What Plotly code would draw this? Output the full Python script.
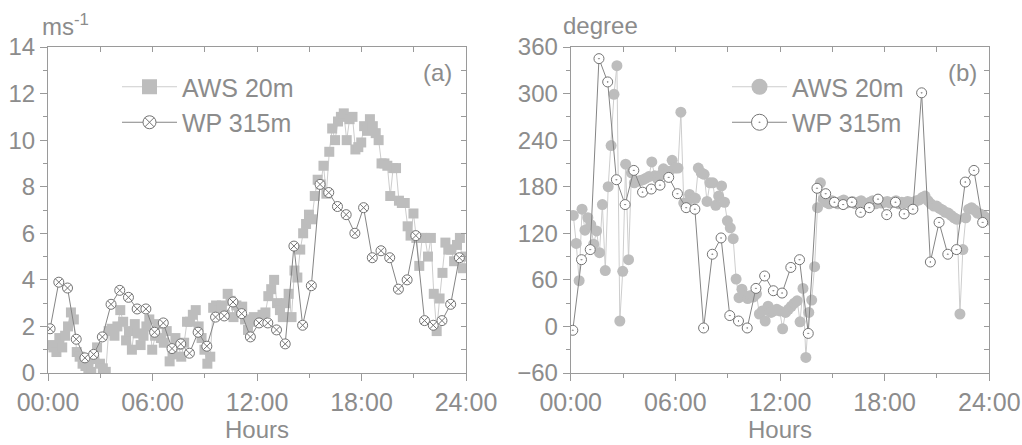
import numpy as np
import plotly.graph_objects as go

# ---------------- data ----------------
x_tick_vals = [0, 6, 12, 18, 24]
x_tick_text = ["00:00", "06:00", "12:00", "18:00", "24:00"]

# AWS 20 m, 10-min samples (hours)
aws_hours = np.arange(144) / 6.0 + 0.15
# WP 315 m, 30-min samples (hours)
wp_hours = np.arange(48) * 0.5 + 0.12

aws_speed = [
    1.2, 1.1, 0.9, 1.5, 1.1, 1.6,
    2.0, 2.6, 2.3, 0.9, 0.7, 0.4,
    0.3, 0.2, 0.05, 0.6, 1.1, 0.4,
    0.2, 0.05, 1.8, 1.9, 1.6, 2.0,
    2.7, 2.2, 1.4, 1.8, 1.0, 2.1,
    1.7, 1.2, 1.6, 2.0, 2.3, 1.0,
    1.6, 2.1, 1.5, 1.3, 1.8, 0.5,
    0.8, 1.5, 1.2, 0.7, 1.3, 2.2,
    2.2, 2.5, 2.7, 2.0, 1.5, 1.0,
    0.4, 0.7, 2.8, 2.9, 2.7, 2.9,
    2.5, 3.4, 3.1, 2.4, 2.9, 2.8,
    2.85, 2.3, 1.85, 2.2, 2.4, 2.3,
    2.3, 2.5, 2.6, 3.3, 3.6, 4.0,
    3.0, 2.7, 2.4, 3.0, 3.4, 2.4,
    4.4, 4.1, 5.3, 6.0, 6.4, 6.8,
    6.6, 7.6, 8.3, 8.1, 8.9, 7.7,
    9.5, 10.5, 10.0, 10.8, 11.0, 11.15,
    10.0, 10.9, 11.0, 9.6, 9.7, 9.9,
    10.6, 10.4, 10.9, 10.6, 10.3, 10.0,
    9.0, 9.0, 8.9, 7.6, 8.8, 8.8,
    7.4, 7.3, 7.3, 6.3, 5.9, 6.85,
    5.8, 4.6, 5.8, 5.8, 5.0, 5.8,
    3.4, 1.8, 3.2, 4.3, 5.6, 5.3,
    5.3, 4.8, 5.5, 5.8, 4.5, 5.0,
]

wp_speed = [
    1.9, 3.9, 3.65, 1.45, 0.65, 0.8, 1.55, 2.95, 3.55, 3.25, 2.75, 2.75,
    1.75, 2.15, 1.05, 1.25, 0.85, 1.75, 1.15, 2.4, 2.45, 3.05, 2.55, 1.55,
    2.15, 2.15, 1.85, 1.25, 5.45, 2.05, 3.75, 8.1, 7.75, 7.15, 6.8, 6.0,
    7.1, 4.95, 5.25, 4.95, 3.6, 4.0, 5.9, 2.25, 2.05, 2.25, 2.95, 4.95,
]

aws_dir = [
    143, 107, 59, 151, 124, 140,
    131, 106, 123, 95, 157, 72,
    180, 233, 299, 336, 7, 71,
    209, 86, 198, 185, 187, 188,
    189, 191, 193, 212, 194, 190,
    195, 203, 197, 200, 214, 204,
    204, 276, 159, 159, 170, 165,
    165, 204, 198, 196, 161, 185,
    185, 156, 168, 181, 160, 136,
    127, 113, 61, 37, 48, 40,
    36, 40, 38, 42, 16, 20,
    7, 26, 18, 20, 22, 20,
    -3, 18, 22, 26, 30, 33,
    6, 49, -40, 18, 34, 77,
    153, 185, 164, 160, 158, 162,
    160, 158, 161, 163, 159, 160,
    161, 158, 160, 162, 159, 157,
    160, 162, 158, 161, 159, 160,
    161, 159, 160, 162, 158, 160,
    159, 161, 160, 158, 162, 163,
    166, 168, 162, 158, 155, 155,
    152, 150, 147, 146, 143, 140,
    138, 16, 99, 140, 151, 153,
    150, 146, 145, 143, 140, 137,
]

wp_dir = [
    -5, 86, 99, 345, 315, 189, 157, 201, 173, 177, 182, 192,
    171, 153, 151, -2, 93, 114, 14, 7, -2, 49, 65, 46,
    43, 76, 86, -9, 178, 171, 160, 157, 160, 147, 153, 164,
    144, 160, 145, 151, 301, 83, 134, 93, 99, 186, 201, 134,
]

# ---------------- style ----------------
FONT = "Liberation Sans, Arial, sans-serif"
TXT = "#8c8c8c"
AX = "#9a9a9a"
AWS_FILL = "#bdbdbd"
AWS_LINE = "#cdcdcd"
WP_LINE = "#858585"
WP_EDGE = "#747474"

W, H = 1022, 445
L1, R1 = 48 / W, 466 / W
L2, R2 = 570.7 / W, 989.3 / W
B, T = (H - 373) / H, (H - 47) / H

fig = go.Figure()

aws_sq = dict(symbol="square", size=10, color=AWS_FILL, line=dict(width=0))
wp_cx = dict(symbol="circle-x", size=10, color="white", line=dict(color=WP_EDGE, width=1))
aws_ci = dict(symbol="circle", size=11, color=AWS_FILL, line=dict(width=0))
wp_cd = dict(symbol="circle-dot", size=10, color="white", line=dict(color=WP_EDGE, width=1))

# left panel
fig.add_trace(go.Scatter(x=aws_hours, y=aws_speed, mode="lines+markers",
                         line=dict(color=AWS_LINE, width=1), marker=aws_sq,
                         xaxis="x", yaxis="y", showlegend=False))
fig.add_trace(go.Scatter(x=wp_hours, y=wp_speed, mode="lines+markers",
                         line=dict(color=WP_LINE, width=1), marker=wp_cx,
                         xaxis="x", yaxis="y", showlegend=False))
# right panel
fig.add_trace(go.Scatter(x=aws_hours, y=aws_dir, mode="lines+markers",
                         line=dict(color=AWS_LINE, width=1), marker=aws_ci,
                         xaxis="x2", yaxis="y2", showlegend=False))
fig.add_trace(go.Scatter(x=wp_hours, y=wp_dir, mode="lines+markers",
                         line=dict(color=WP_LINE, width=1), marker=wp_cd,
                         xaxis="x2", yaxis="y2", showlegend=False))

# legend entries (bigger symbols, like the reference legend)
def leg(name, lc, mk, size, lg, xa, ya):
    m = dict(mk)
    m["size"] = size
    fig.add_trace(go.Scatter(x=[None], y=[None], mode="lines+markers", name=name,
                             line=dict(color=lc, width=1), marker=m,
                             xaxis=xa, yaxis=ya, legend=lg, showlegend=True))

leg("AWS 20m", AWS_LINE, aws_sq, 15, "legend", "x", "y")
leg("WP 315m", WP_LINE, wp_cx, 13, "legend", "x", "y")
leg("AWS 20m", AWS_LINE, aws_ci, 16, "legend2", "x2", "y2")
leg("WP 315m", WP_LINE, wp_cd, 16, "legend2", "x2", "y2")

# empty traces so the mirrored (inside-tick) frame axes are drawn
for xa, ya in (("x3", "y3"), ("x4", "y4")):
    fig.add_trace(go.Scatter(x=[], y=[], xaxis=xa, yaxis=ya, showlegend=False,
                             hoverinfo="skip"))

def xbottom(dom, anchor):
    return dict(domain=dom, anchor=anchor, range=[0, 24], tickmode="array",
                tickvals=x_tick_vals, ticktext=x_tick_text, ticks="outside",
                ticklen=7, tickwidth=1, tickcolor=AX, showline=True,
                linecolor=AX, linewidth=1, showgrid=False, zeroline=False,
                automargin=False,
                tickfont=dict(family=FONT, size=25, color=TXT),
                minor=dict(tickmode="array", tickvals=[3, 9, 15, 21],
                           ticks="outside", ticklen=4, tickcolor=AX),
                title=dict(text="Hours", font=dict(family=FONT, size=24, color=TXT),
                           standoff=6))

def yleft(dom, anchor, rng, dt, mdt):
    return dict(domain=dom, anchor=anchor, range=rng, tickmode="linear",
                tick0=0, dtick=dt, ticks="outside", ticklen=7, tickwidth=1,
                tickcolor=AX, showline=True, linecolor=AX, linewidth=1,
                showgrid=False, zeroline=False, automargin=False,
                tickfont=dict(family=FONT, size=24, color=TXT),
                minor=dict(tick0=0, dtick=mdt, ticks="outside", ticklen=4,
                           tickcolor=AX))

def xtop(over, dom, anchor):
    return dict(overlaying=over, side="top", domain=dom, anchor=anchor,
                range=[0, 24], tickmode="linear", tick0=0, dtick=3,
                ticks="inside", ticklen=5, tickcolor=AX, showticklabels=False,
                showline=True, linecolor=AX, linewidth=1, showgrid=False,
                zeroline=False, automargin=False)

def yright(over, dom, anchor, rng, dt):
    return dict(overlaying=over, side="right", domain=dom, anchor=anchor,
                range=rng, tickmode="linear", tick0=0, dtick=dt,
                ticks="inside", ticklen=5, tickcolor=AX, showticklabels=False,
                showline=True, linecolor=AX, linewidth=1, showgrid=False,
                zeroline=False, automargin=False)

legfont = dict(family=FONT, size=25, color=TXT)

fig.update_layout(
    width=W, height=H,
    margin=dict(l=0, r=0, t=0, b=0, autoexpand=False),
    paper_bgcolor="white", plot_bgcolor="white",
    font=dict(family=FONT, color=TXT),
    xaxis=xbottom([L1, R1], "y"),
    yaxis=yleft([B, T], "x", [0, 14], 2, 1),
    xaxis2=xbottom([L2, R2], "y2"),
    yaxis2=yleft([B, T], "x2", [-60, 360], 60, 30),
    xaxis3=xtop("x", [L1, R1], "y3"),
    yaxis3=yright("y", [B, T], "x3", [0, 14], 1),
    xaxis4=xtop("x2", [L2, R2], "y4"),
    yaxis4=yright("y2", [B, T], "x4", [-60, 360], 30),
    legend=dict(x=117 / W, y=(H - 64) / H, xanchor="left", yanchor="top",
                bgcolor="rgba(0,0,0,0)", font=legfont,
                itemsizing="trace", itemwidth=55, tracegroupgap=0),
    legend2=dict(x=727 / W, y=(H - 64) / H, xanchor="left", yanchor="top",
                 bgcolor="rgba(0,0,0,0)", font=legfont,
                 itemsizing="trace", itemwidth=55, tracegroupgap=0),
    showlegend=True,
    annotations=[
        dict(text="ms<sup>-1</sup>", x=40 / W, y=(H - 25) / H, xref="paper",
             yref="paper", xanchor="left", yanchor="middle", showarrow=False,
             font=dict(family=FONT, size=24, color=TXT)),
        dict(text="degree", x=600 / W, y=(H - 25) / H, xref="paper",
             yref="paper", xanchor="center", yanchor="middle", showarrow=False,
             font=dict(family=FONT, size=24, color=TXT)),
        dict(text="(a)", x=437 / W, y=(H - 72) / H, xref="paper", yref="paper",
             xanchor="center", yanchor="middle", showarrow=False,
             font=dict(family=FONT, size=24, color=TXT)),
        dict(text="(b)", x=962 / W, y=(H - 72) / H, xref="paper", yref="paper",
             xanchor="center", yanchor="middle", showarrow=False,
             font=dict(family=FONT, size=24, color=TXT)),
    ],
)

fig.write_html("out.html")
